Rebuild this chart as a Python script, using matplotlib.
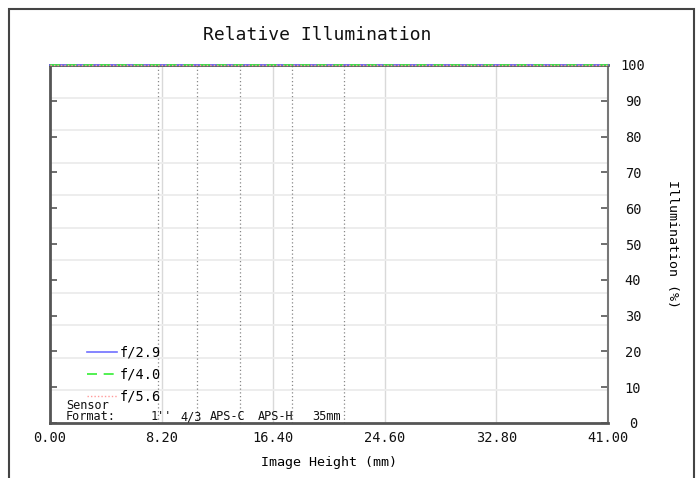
import matplotlib
matplotlib.use("Agg")
import matplotlib.pyplot as plt
from matplotlib.patches import Rectangle
import numpy as np

# Relative illumination vs image height, one curve per aperture
image_height = [0.0, 8.2, 16.4, 24.6, 32.8, 41.0]
illum_f29 = [100, 100, 100, 100, 100, 100]
illum_f40 = [100, 100, 100, 100, 100, 100]
illum_f56 = [100, 100, 100, 100, 100, 100]

# Half-diagonals of common sensor formats (mm) and their labels
sensor_heights = [7.93, 10.82, 13.94, 17.76, 21.63]
sensor_names = ["1''", "4/3", "APS-C", "APS-H", "35mm"]
sensor_label_x = [8.96, 11.17, 14.33, 17.85, 21.38]

x_ticks = [0.0, 8.2, 16.4, 24.6, 32.8, 41.0]
y_ticks = list(range(0, 101, 10))

FONT = "DejaVu Sans Mono"
W, H = 699, 478

fig = plt.figure(figsize=(W / 100, H / 100), dpi=100)
ax = fig.add_axes([50 / W, 1 - 423 / H, 558 / W, 358 / H])

# background grid: x at the tick steps, y split into 11 bands
for gx in x_ticks[1:-1]:
    ax.axvline(gx, color="#d9d9d9", lw=1.0, zorder=1)
for gy in np.arange(1, 11) * 100 / 11:
    ax.axhline(gy, color="#ececec", lw=1.3, zorder=1)

# sensor format markers
for sx in sensor_heights:
    ax.axvline(sx, color="#888888", lw=0.9, ls=(0, (1, 2)), zorder=2)
for lx, name in zip(sensor_label_x, sensor_names):
    ax.text(lx, 1.7, name, ha="right", va="center", family=FONT,
            fontsize=8.6, color="#111111", zorder=4)
ax.text(1.18, 5.0, "Sensor", ha="left", va="center", family=FONT,
        fontsize=8.6, color="#111111", zorder=4)
ax.text(1.18, 1.7, "Format:", ha="left", va="center", family=FONT,
        fontsize=8.6, color="#111111", zorder=4)

l1, = ax.plot(image_height, illum_f29, color="#7070ff", lw=1.2, zorder=5,
              clip_on=False)
l2, = ax.plot(image_height, illum_f40, color="#33ee33", lw=1.2,
              ls=(0, (6, 4)), zorder=5, clip_on=False)
l3, = ax.plot(image_height, illum_f56, color="#ff9a9a", lw=1.0,
              ls=(0, (1, 1.5)), zorder=5, clip_on=False)

leg = ax.legend([l1, l2, l3], ["f/2.9", "f/4.0", "f/5.6"], loc="lower left",
                bbox_to_anchor=(0.066, 0.055), frameon=False, borderpad=0,
                borderaxespad=0, handlelength=2.2, handletextpad=0.25,
                labelspacing=0.58, prop={"family": FONT, "size": 9.8})

ax.set_xlim(0, 41)
ax.set_ylim(0, 100)
ax.set_xticks(x_ticks)
ax.set_xticklabels([f"{v:.2f}" for v in x_ticks], family=FONT, fontsize=9.8)
ax.set_yticks(y_ticks)
ax.set_yticklabels([str(v) for v in y_ticks], family=FONT, fontsize=9.8,
                   ha="center")
ax.tick_params(axis="x", length=0, pad=6, colors="#111111")
ax.tick_params(axis="y", direction="in", length=5, width=1.2, color="#555555",
               left=True, right=True, labelleft=False, labelright=True,
               pad=18, labelcolor="#111111")

for side in ["left", "bottom", "top"]:
    ax.spines[side].set_color("#555555")
    ax.spines[side].set_linewidth(2.0)
ax.spines["right"].set_color("#777777")
ax.spines["right"].set_linewidth(1.5)

ax.set_xlabel("Image Height (mm)", family=FONT, fontsize=9.6, labelpad=7.5)
ax.yaxis.set_label_position("right")
ax.set_ylabel("Illumination (%)", family=FONT, fontsize=9.6, rotation=270,
              labelpad=24)

fig.text(317.5 / W, 1 - 35 / H, "Relative Illumination", ha="center",
         va="center", family=FONT, fontsize=13, color="#111111")

# outer frame, open at the bottom edge
frame = Rectangle((9 / W, -0.05), 685 / W, 1.05 - 9 / H,
                  transform=fig.transFigure, fill=False, ec="#444444",
                  lw=1.5, clip_on=False)
fig.patches.append(frame)

fig.savefig("out.png", dpi=100)
